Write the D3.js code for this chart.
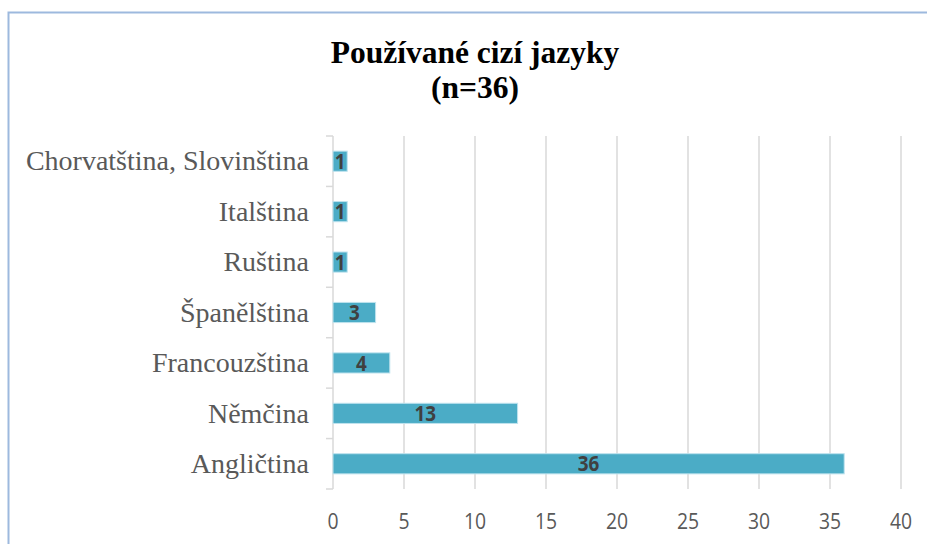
<!DOCTYPE html>
<html><head><meta charset="utf-8">
<script src="https://cdn.jsdelivr.net/npm/d3@7"></script>
<style>body{margin:0;background:#fff}svg{display:block}</style>
</head><body>
<script>
const categories = ["Chorvatština, Slovinština","Italština","Ruština","Španělština","Francouzština","Němčina","Angličtina"];
const values = [1,1,1,3,4,13,36];
const xTicks = [0,5,10,15,20,25,30,35,40];
const titleLines = ["Používané cizí jazyky","(n=36)"];

(function(){
const W=927,H=544;
const svg=d3.select("body").append("svg").attr("width",W).attr("height",H);
svg.append("rect").attr("width",W).attr("height",H).attr("fill","#fff");
// frame
svg.append("path").attr("d",`M8.5,${H+2}V12.5H${W+2}`).attr("fill","none").attr("stroke","#9db9de").attr("stroke-width",2);

const pL=333,pR=901,pT=136,pB=489;
const x=d3.scaleLinear().domain([0,40]).range([pL,pR]);
const y=d3.scaleBand().domain(categories).range([pT,pB]).paddingInner(0.6).paddingOuter(0.3);

// gridlines
svg.append("g").selectAll("line").data(xTicks.slice(1)).join("line")
 .attr("x1",d=>x(d)).attr("x2",d=>x(d)).attr("y1",pT).attr("y2",pB)
 .attr("stroke","#d9d9d9").attr("stroke-width",1.5);

// y axis
const yAxisScale=d3.scaleBand().domain(categories).range([pT,pB]);
const ya=svg.append("g").attr("transform",`translate(${pL},0)`);
ya.append("line").attr("y1",pT).attr("y2",pB).attr("stroke","#d9d9d9").attr("stroke-width",1.5);
const tickYs=categories.map(c=>yAxisScale(c)).concat([pB]);
ya.selectAll("line.t").data(tickYs).join("line").attr("class","t")
 .attr("x1",-7).attr("x2",0).attr("y1",d=>d).attr("y2",d=>d).attr("stroke","#d9d9d9").attr("stroke-width",1.5);
ya.selectAll("text").data(categories).join("text")
 .attr("x",-24).attr("y",d=>yAxisScale(d)+yAxisScale.bandwidth()/2)
 .attr("dy","0.33em").attr("text-anchor","end")
 .attr("font-family","'Liberation Serif','Times New Roman',serif").attr("font-size",28).attr("fill","#595959")
 .text(d=>d);

// bars
svg.append("g").selectAll("rect").data(values).join("rect")
 .attr("x",x(0)).attr("y",(d,i)=>y(categories[i]))
 .attr("width",d=>x(d)-x(0)).attr("height",y.bandwidth())
 .attr("fill","#4bacc6").attr("stroke","#bfe3ee").attr("stroke-width",1);

// data labels
svg.append("g").selectAll("text").data(values).join("text")
 .attr("transform",(d,i)=>`translate(${(x(d)+x(0))/2},${y(categories[i])+y.bandwidth()/2}) scale(0.9,1)`)
 .attr("dy","0.36em").attr("text-anchor","middle")
 .attr("font-family","'Open Sans','Liberation Sans',sans-serif").attr("font-weight","bold").attr("font-size",21).attr("fill","#404040")
 .text(d=>d);

// x tick labels
svg.append("g").selectAll("text").data(xTicks).join("text")
 .attr("transform",d=>`translate(${x(d)},529) scale(0.88,1)`).attr("text-anchor","middle")
 .attr("font-family","'Open Sans',sans-serif").attr("font-size",22).attr("fill","#595959")
 .text(d=>d);

// title
svg.append("g").selectAll("text").data(titleLines).join("text")
 .attr("x",475).attr("y",(d,i)=>63+i*35).attr("text-anchor","middle")
 .attr("font-family","'Liberation Serif','Times New Roman',serif").attr("font-weight","bold").attr("font-size",31.5).attr("fill","#000")
 .text(d=>d);
})();
</script>
</body></html>
